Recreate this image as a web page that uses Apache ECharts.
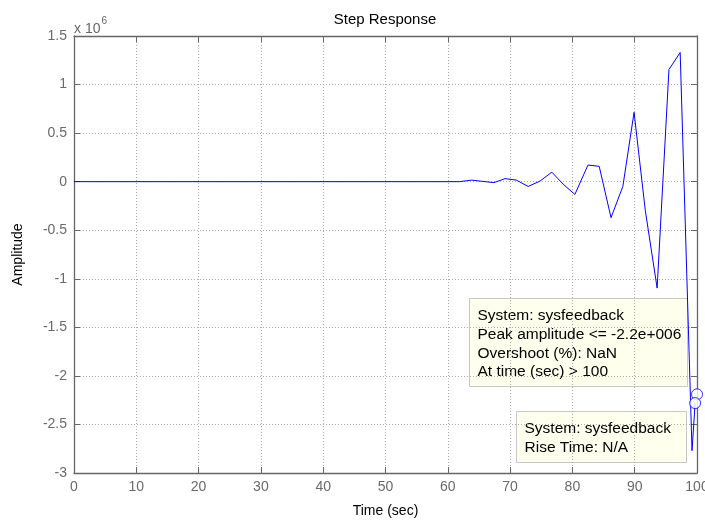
<!DOCTYPE html>
<html>
<head>
<meta charset="UTF-8">
<title>Step Response</title>
<script src="https://cdn.jsdelivr.net/npm/echarts@6/dist/echarts.min.js"></script>
<style>
  html,body{margin:0;height:100%;background:#fff;}
  #chart{width:705px;height:520px;}
</style>
</head>
<body>
<div id="chart"></div>
<script>
// step response, amplitude in units of 1e6
const timeSec = [0, 61.9, 63.8, 67.4, 69.2, 71.0, 72.9, 74.8, 76.7, 78.6, 80.4, 82.5, 84.3, 86.2, 88.1, 89.9, 91.7, 93.6, 95.5, 97.3, 99.2, 99.7];
const amp     = [0, 0, 0.016, -0.010, 0.031, 0.016, -0.049, 0.006, 0.098, -0.031, -0.131, 0.171, 0.158, -0.371, -0.049, 0.715, -0.296, -1.096, 1.155, 1.330, -2.77, -2.28];
const markT = [100, 99.7];
const markV = [-2.19, -2.28];
const tipPeak = ['System: sysfeedback', 'Peak amplitude <= -2.2e+006', 'Overshoot (%): NaN', 'At time (sec) > 100'];
const tipRise = ['System: sysfeedback', 'Rise Time: N/A'];

const font = '"Liberation Sans", Arial, Helvetica, sans-serif';
const chart = echarts.init(document.getElementById('chart'));

const boxAxis = (pos, min, max, step, labels) => ({
  type: 'value', position: pos, min, max, interval: step,
  axisLine: {show: true, onZero: false, lineStyle: {color: '#666', width: 1.3}},
  axisTick: {show: true, inside: true, length: 6, lineStyle: {color: '#666'}},
  axisLabel: {show: labels, color: '#6a6a6a', fontSize: 14, fontFamily: font, margin: 7},
  splitLine: {show: labels, lineStyle: {color: '#aaa', type: [1, 2], width: 1}}
});

const xMain = Object.assign(boxAxis('bottom', 0, 100, 10, true), {
  name: 'Time (sec)', nameLocation: 'middle', nameGap: 31,
  nameTextStyle: {color: '#000', fontSize: 14, fontFamily: font}
});
const yMain = Object.assign(boxAxis('left', -3, 1.5, 0.5, true), {
  name: 'Amplitude', nameLocation: 'middle', nameGap: 49,
  nameTextStyle: {color: '#000', fontSize: 14, fontFamily: font}
});

function tipBox(x, y, w, h, lines) {
  return {
    type: 'group', x, y, z: 100,
    children: [
      {type: 'rect', shape: {x: 0, y: 0, width: w, height: h},
       style: {fill: '#ffffee', stroke: '#c8c8c8', lineWidth: 1}},
      {type: 'text', x: 8, y: 8,
       style: {text: lines.join('\n'), fill: '#000', fontSize: 15.5, fontFamily: font, lineHeight: 18.7}}
    ]
  };
}

chart.setOption({
  animation: false,
  grid: {left: 74, right: 8, top: 36, bottom: 47, containLabel: false, outerBoundsMode: 'none'},
  xAxis: [xMain, boxAxis('top', 0, 100, 10, false)],
  yAxis: [yMain, boxAxis('right', -3, 1.5, 0.5, false)],
  graphic: [
    {type: 'text', x: 385, y: 20,
     style: {text: 'Step Response', fill: '#000', fontSize: 15, fontFamily: font,
             align: 'center', verticalAlign: 'middle'}},
    {type: 'text', x: 74, y: 16,
     style: {text: '{a|x 10}{b|6}', fontFamily: font,
             rich: {a: {fontSize: 14, fill: '#666', padding: [6, 0, 0, 0]},
                    b: {fontSize: 10, fill: '#666', verticalAlign: 'top', padding: [0, 0, 6, 1]}}}},
    tipBox(469.5, 298.5, 218, 88, tipPeak),
    tipBox(516.5, 411.5, 170, 51, tipRise)
  ],
  series: [
    {type: 'line', data: timeSec.map((t, i) => [t, amp[i]]), showSymbol: false,
     lineStyle: {color: '#0000ff', width: 1}, clip: true, z: 5},
    {type: 'scatter', data: markT.map((t, i) => [t, markV[i]]), symbol: 'circle', symbolSize: 11,
     itemStyle: {color: '#fff', borderColor: '#0000ff', borderWidth: 1}, clip: false, z: 120}
  ]
});
</script>
</body>
</html>
